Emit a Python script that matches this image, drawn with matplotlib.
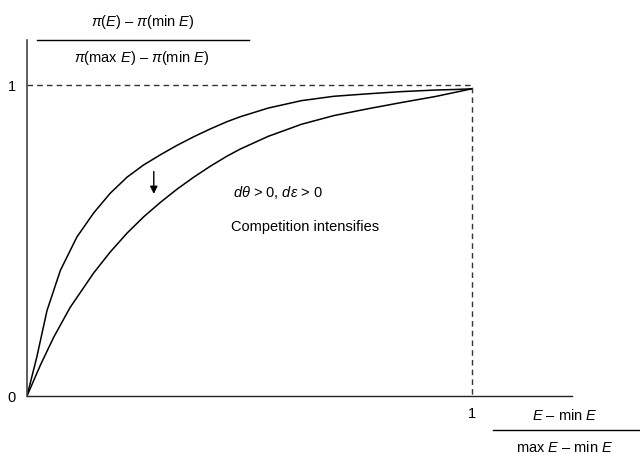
import matplotlib
matplotlib.use('Agg')
import matplotlib.pyplot as plt
from matplotlib import rcParams

rcParams['font.family'] = 'Liberation Sans'
rcParams['mathtext.fontset'] = 'custom'
rcParams['mathtext.rm'] = 'Liberation Sans'
rcParams['mathtext.it'] = 'Liberation Sans:italic'

# (normalised units)
upper_x = [0, 0.022, 0.045, 0.075, 0.112, 0.150, 0.187, 0.225, 0.262, 0.300,
           0.337, 0.375, 0.412, 0.449, 0.479, 0.542, 0.617, 0.690, 0.767,
           0.842, 0.917, 0.966, 1.0]
upper_y = [0, 0.125, 0.275, 0.404, 0.511, 0.589, 0.652, 0.704, 0.743, 0.776,
           0.806, 0.834, 0.859, 0.882, 0.898, 0.926, 0.950, 0.964, 0.972,
           0.979, 0.984, 0.986, 0.988]
lower_x = [0, 0.030, 0.060, 0.097, 0.150, 0.187, 0.225, 0.262, 0.300, 0.337,
           0.375, 0.412, 0.449, 0.479, 0.542, 0.617, 0.690, 0.767, 0.842,
           0.917, 1.0]
lower_y = [0, 0.099, 0.189, 0.285, 0.396, 0.463, 0.524, 0.576, 0.623, 0.665,
           0.704, 0.739, 0.771, 0.794, 0.835, 0.874, 0.902, 0.924, 0.944,
           0.963, 0.988]
x_ticks = [1]
y_ticks = [0, 1]

fig = plt.figure(figsize=(6.4, 4.58), dpi=100, facecolor='white')
ax = fig.add_axes([27 / 640, 1 - 396 / 458, 545 / 640, 356 / 458])
ax.set_xlim(0, 1.225)
ax.set_ylim(0, 1.145)

for side in ['top', 'right']:
    ax.spines[side].set_visible(False)
ax.spines['left'].set_color('#444444')
ax.spines['left'].set_linewidth(1.2)
ax.spines['bottom'].set_color('#222222')
ax.spines['bottom'].set_linewidth(1.0)

ax.plot(upper_x, upper_y, color='black', lw=1.1, solid_joinstyle='round')
ax.plot(lower_x, lower_y, color='black', lw=1.1, solid_joinstyle='round')

# dashed guides to (1, 1)
ax.plot([0, 1, 1], [1, 1, 0], color='#333333', lw=1.0, ls=(0, (4, 3)))

ax.annotate('', xy=(0.285, 0.650), xytext=(0.285, 0.722),
            arrowprops=dict(arrowstyle='-|>', color='black', lw=1.0,
                            mutation_scale=11, shrinkA=0, shrinkB=0))

ax.text(0.463, 0.656, r'$d\theta$ > 0, $d\varepsilon$ > 0', fontsize=10.5,
        ha='left', va='center')
ax.text(0.625, 0.543, 'Competition intensifies', fontsize=10.5,
        ha='center', va='center')

ax.set_xticks(x_ticks)
ax.set_xticklabels([str(t) for t in x_ticks], fontsize=10.5)
ax.set_yticks(y_ticks)
ax.set_yticklabels([str(t) for t in y_ticks], fontsize=10.5)
ax.tick_params(axis='both', length=0)
ax.tick_params(axis='x', pad=8)
ax.tick_params(axis='y', pad=8)

# axis labels as fractions
fig.text(143 / 640, 1 - 22 / 458, r'$\pi(E)$ – $\pi($min $E)$',
         fontsize=10.5, ha='center', va='center')
fig.add_artist(plt.Line2D([37 / 640, 249 / 640], [1 - 40 / 458, 1 - 40 / 458],
                          color='black', lw=1.0))
fig.text(142 / 640, 1 - 58 / 458, r'$\pi($max $E)$ – $\pi($min $E)$',
         fontsize=10.5, ha='center', va='center')

fig.text(565 / 640, 1 - 415 / 458, r'$E$ – min $E$',
         fontsize=10.5, ha='center', va='center')
fig.add_artist(plt.Line2D([493 / 640, 640 / 640], [1 - 430 / 458, 1 - 430 / 458],
                          color='black', lw=1.0))
fig.text(565 / 640, 1 - 447 / 458, r'max $E$ – min $E$',
         fontsize=10.5, ha='center', va='center')

fig.savefig('out.png', dpi=100, facecolor='white')
